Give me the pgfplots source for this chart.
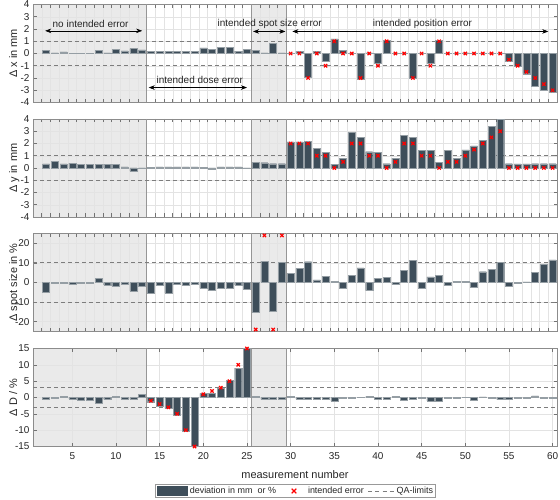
\documentclass[border=0pt]{standalone}
\usepackage{fontspec}
\setmainfont{Liberation Sans}
\usepackage{pgfplots}
\pgfplotsset{compat=1.18}
\usepackage{pgfplotstable}
\usetikzlibrary{arrows.meta}
\definecolor{barcol}{RGB}{62,78,90}
\definecolor{shadecol}{RGB}{234,234,234}
\definecolor{sepcol}{RGB}{150,150,150}
\definecolor{qacol}{RGB}{125,125,125}
\pgfplotsset{set layers}

\pgfplotstableread{
i dx dy ds dd
2 0.27 0.33 -4.8 -0.5
3 0.05 0.55 -0.3 -0.2
4 0.13 0.33 -0.5 0.3
5 0.02 0.40 -0.8 -0.4
6 0.02 0.27 -0.5 -0.7
7 0.02 0.27 -0.5 -0.7
8 0.24 0.32 2.0 -1.8
9 0.05 0.32 -1.2 -0.6
10 0.34 0.32 -2.0 0.3
11 0.21 0.10 -1.0 -0.5
12 0.40 -0.25 -4.4 -0.5
13 0.30 -0.05 -1.7 0.9
14 0.15 0.08 -5.3 -1.3
15 0.15 0.10 -1.2 -2.8
16 0.16 0.10 -5.3 -3.3
17 0.15 0.10 -0.8 -5.3
18 0.20 0.10 -1.3 -10.3
19 0.20 0.10 -0.9 -15.0
20 0.45 0.08 -2.7 1.25
21 0.36 -0.10 -3.8 1.3
22 0.52 0.10 -3.0 2.7
23 0.53 0.10 -2.7 5.3
24 0.20 0.10 -1.2 9.0
25 0.32 -0.03 -3.2 15.0
26 0.27 0.48 -15.0 0.3
27 0.05 0.43 10.9 -0.6
28 0.80 0.35 -14.7 -0.5
29 0.05 0.35 10.4 -0.6
30 0.02 2.13 4.6 0.3
31 0.18 2.13 7.2 -0.5
32 -1.90 2.20 10.6 -0.6
33 0.20 1.60 1.4 -0.6
34 -0.62 1.28 3.2 -0.6
35 1.20 0.32 0.5 -1.1
36 0.25 0.80 -2.7 -0.3
37 0.02 2.93 3.6 -0.3
38 -2.10 2.48 7.5 0.05
39 0.05 1.33 -4.1 0.3
40 -0.82 1.28 2.0 -0.5
41 1.05 0.35 2.7 -0.4
42 0.02 0.80 -1.0 0.3
43 0.02 2.64 6.2 -0.8
44 -2.05 2.53 11.3 -0.5
45 0.02 1.44 -2.7 -0.1
46 -0.82 1.44 2.9 -1.0
47 1.05 0.48 3.8 -1.0
48 0.02 1.42 -1.4 -0.2
49 0.02 0.79 0.5 -0.3
50 0.06 1.47 0.7 0.1
51 0.02 1.80 -2.2 -0.7
52 0.02 2.24 5.5 0.2
53 0.02 3.40 6.8 -0.1
54 0.02 3.97 10.3 -0.6
55 -0.65 0.35 -1.9 -0.5
56 -1.05 0.33 -0.4 -0.1
57 -1.65 0.33 0.3 -0.1
58 -2.65 0.35 5.0 0.5
59 -3.03 0.35 9.2 -0.3
60 -3.20 0.35 11.5 -0.2
}\datatab

\pgfplotstableread{
i ex ey
30 0 2
31 0 2
32 -2 2
33 0 1
34 -1 1
35 1 0
36 0 0.5
37 0 2
38 -2 2
39 0 1
40 -1 1
41 1 0
42 0 0.5
43 0 2
44 -2 2
45 0 1
46 -1 1
47 1 0
48 0 0.5
49 0 0.5
50 0 1
51 0 1.5
52 0 2
53 0 2.5
54 0 3
55 -0.5 0
56 -1 0
57 -1.5 0
58 -2 0
59 -2.5 0
60 -3 0
}\posmarks

\pgfplotstableread{
i es
26 -24
27 24
28 -24
29 24
}\spotmarks

\pgfplotstableread{
i ed
14 -1
15 -2
16 -3
17 -5
18 -10
19 -15
20 1
21 2
22 3
23 5
24 10
25 15
}\dosemarks

\pgfplotsset{
  panel/.style={
    scale only axis, width=524bp, height=98bp,
    anchor=south west,
    xmin=0.5, xmax=60.5,
    axis line style={draw=black!45},
    tick style={draw=black!55, line width=0.5bp},
    major tick length=3.5bp,
    grid=major, grid style={draw=black!11, line width=0.4bp},
    tick label style={font=\fontsize{10}{12}\selectfont, text=black!85},
    /pgf/number format/assume math mode=true,
    clip=false,
    ylabel style={at={(axis description cs:-0.0305,0.5)}, anchor=base, inner sep=0pt, font=\fontsize{11}{13}\selectfont, text=black!85},
  },
  qa/.style={draw=qacol, dash pattern=on 4bp off 3bp, line width=0.8bp},
  bars/.style={ybar, bar width=0.8, bar shift=0pt, fill=barcol, draw=barcol!55!white, line width=0.4bp},
  emark/.style={only marks, mark=x, mark size=2.3bp, draw=red, line width=1.2bp, mark options={solid}},
  shadebox/.style={fill=shadecol, draw=none, on layer=axis background, forget plot},
  sepline/.style={draw=sepcol, line width=0.7bp, forget plot},
}

\begin{document}
\begin{tikzpicture}

% Panel 1: Delta x
\begin{axis}[panel, at={(33bp,397.5bp)},
  ymin=-4, ymax=4, ytick={-4,-3,...,4},
  xtick={1.5,2.5,...,59.5}, xticklabels={},
  ylabel={Δ x in mm}]
\addplot[shadebox] coordinates {(0.5,-4) (0.5,4) (13.5,4) (13.5,-4)} -- cycle;
\addplot[shadebox] coordinates {(25.5,-4) (25.5,4) (29.5,4) (29.5,-4)} -- cycle;
\addplot[sepline] coordinates {(13.5,-4) (13.5,4)};
\addplot[sepline] coordinates {(25.5,-4) (25.5,4)};
\addplot[sepline] coordinates {(29.5,-4) (29.5,4)};
\addplot[qa] coordinates {(0.5,1) (60.5,1)};
\addplot[qa] coordinates {(0.5,-1) (60.5,-1)};
\addplot[bars] table[x=i,y=dx] {\datatab};
\addplot[emark] table[x=i,y=ex] {\posmarks};
\node[font=\fontsize{10}{12}\selectfont, text=black!85] at (axis cs:7.1,2.45) {no intended error};
\draw[{Stealth[length=6bp,width=4.5bp]}-{Stealth[length=6bp,width=4.5bp]}, line width=0.5bp] (axis cs:1.9,1.85) -- (axis cs:13.0,1.85);
\node[font=\fontsize{10}{12}\selectfont, text=black!85] at (axis cs:27.6,2.45) {intended spot size error};
\draw[{Stealth[length=6bp,width=4.5bp]}-{Stealth[length=6bp,width=4.5bp]}, line width=0.5bp] (axis cs:25.7,1.8) -- (axis cs:29.4,1.8);
\node[font=\fontsize{10}{12}\selectfont, text=black!85] at (axis cs:45.1,2.45) {intended position error};
\draw[{Stealth[length=6bp,width=4.5bp]}-{Stealth[length=6bp,width=4.5bp]}, line width=0.5bp] (axis cs:30.2,1.8) -- (axis cs:59.5,1.8);
\node[font=\fontsize{10}{12}\selectfont, text=black!85] at (axis cs:19.6,-2.18) {intended dose error};
\draw[{Stealth[length=6bp,width=4.5bp]}-{Stealth[length=6bp,width=4.5bp]}, line width=0.5bp] (axis cs:13.75,-2.78) -- (axis cs:25.0,-2.78);
\end{axis}

% Panel 2: Delta y
\begin{axis}[panel, at={(33bp,283bp)},
  ymin=-4, ymax=4, ytick={-4,-3,...,4},
  xtick={1.5,2.5,...,59.5}, xticklabels={},
  ylabel={Δ y in mm}]
\addplot[shadebox] coordinates {(0.5,-4) (0.5,4) (13.5,4) (13.5,-4)} -- cycle;
\addplot[shadebox] coordinates {(25.5,-4) (25.5,4) (29.5,4) (29.5,-4)} -- cycle;
\addplot[sepline] coordinates {(13.5,-4) (13.5,4)};
\addplot[sepline] coordinates {(25.5,-4) (25.5,4)};
\addplot[sepline] coordinates {(29.5,-4) (29.5,4)};
\addplot[qa] coordinates {(0.5,1) (60.5,1)};
\addplot[qa] coordinates {(0.5,-1) (60.5,-1)};
\addplot[bars] table[x=i,y=dy] {\datatab};
\addplot[emark] table[x=i,y=ey] {\posmarks};
\end{axis}

% Panel 3: spot size
\begin{axis}[panel, at={(33bp,168.5bp)},
  ymin=-25, ymax=25, ytick={-20,-10,...,20},
  xtick={1.5,2.5,...,59.5}, xticklabels={},
  ylabel={Δ spot size in \%}]
\addplot[shadebox] coordinates {(0.5,-25) (0.5,25) (13.5,25) (13.5,-25)} -- cycle;
\addplot[shadebox] coordinates {(25.5,-25) (25.5,25) (29.5,25) (29.5,-25)} -- cycle;
\addplot[sepline] coordinates {(13.5,-25) (13.5,25)};
\addplot[sepline] coordinates {(25.5,-25) (25.5,25)};
\addplot[sepline] coordinates {(29.5,-25) (29.5,25)};
\addplot[qa] coordinates {(0.5,10) (60.5,10)};
\addplot[qa] coordinates {(0.5,-10) (60.5,-10)};
\addplot[bars] table[x=i,y=ds] {\datatab};
\addplot[emark] table[x=i,y=es] {\spotmarks};
\end{axis}

% Panel 4: dose
\begin{axis}[panel, at={(33bp,53.5bp)},
  ymin=-15, ymax=15, ytick={-15,-10,...,15},
  xtick={5,10,...,60},
  xticklabel style={yshift=-2.5bp},
  ylabel={Δ D / \%},
  xlabel={measurement number},
  xlabel style={at={(axis description cs:0.5,-0.282)}, anchor=center, font=\fontsize{11}{13}\selectfont, text=black!85},
  legend columns=3,
  legend style={at={(0.5,-0.454)}, anchor=center, draw=black!40, fill=white,
    inner xsep=1.8bp, inner ysep=2bp,
    nodes={inner sep=0pt, font=\fontsize{9}{10}\selectfont, text=black!85},
    font=\fontsize{9}{10}\selectfont,
    /tikz/every odd column/.append style={column sep=2.5bp},
    /tikz/every even column/.append style={column sep=4bp}},
  legend cell align=left]
\addplot[shadebox] coordinates {(0.5,-15) (0.5,15) (13.5,15) (13.5,-15)} -- cycle;
\addplot[shadebox] coordinates {(25.5,-15) (25.5,15) (29.5,15) (29.5,-15)} -- cycle;
\addplot[sepline] coordinates {(13.5,-15) (13.5,15)};
\addplot[sepline] coordinates {(25.5,-15) (25.5,15)};
\addplot[sepline] coordinates {(29.5,-15) (29.5,15)};
\addplot[qa, forget plot] coordinates {(0.5,3) (60.5,3)};
\addplot[qa, forget plot] coordinates {(0.5,-3) (60.5,-3)};
\addplot[bars, legend image code/.code={\fill[barcol] (0bp,-4.5bp) rectangle (30bp,4.5bp);}] table[x=i,y=dd] {\datatab};
\addlegendentry{deviation in mm\ \ or \%}
\addplot[emark, legend image code/.code={%
  \pgfpathmoveto{\pgfpoint{0bp}{0bp}}\pgfpathlineto{\pgfpoint{25.5bp}{0bp}}\pgfusepath{discard}%
  \draw[draw=red, line width=1.2bp] (11.7bp,-2.3bp) -- (16.3bp,2.3bp) (11.7bp,2.3bp) -- (16.3bp,-2.3bp);}] table[x=i,y=ed] {\dosemarks};
\addlegendentry{intended error}
\addlegendimage{legend image code/.code={\draw[draw=qacol, dash pattern=on 4bp off 3.2bp, line width=0.8bp] (0bp,0bp) -- (25.6bp,0bp);}}
\addlegendentry{QA-limits}
\end{axis}

\pgfresetboundingbox
\path[use as bounding box] (0,0) rectangle (560bp,500bp);
\end{tikzpicture}
\end{document}
